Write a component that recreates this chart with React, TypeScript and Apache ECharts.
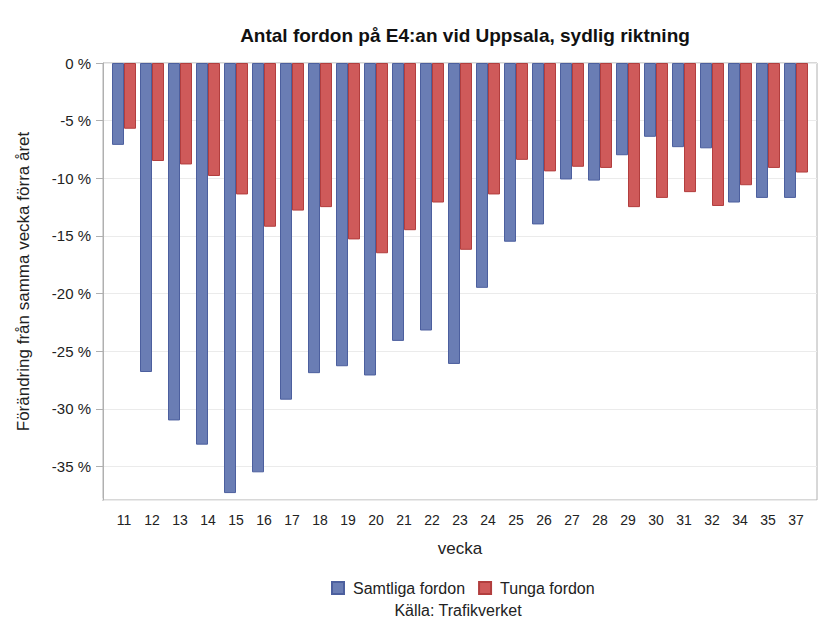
import React, { useEffect, useRef } from "react";
import * as echarts from "echarts";

const weeks = ["11","12","13","14","15","16","17","18","19","20","21","22","23","24","25","26","27","28","29","30","31","32","34","35","37"];
const samtliga = [-7.1,-26.8,-31.0,-33.1,-37.3,-35.5,-29.2,-26.9,-26.3,-27.1,-24.1,-23.2,-26.1,-19.5,-15.5,-14.0,-10.1,-10.2,-8.0,-6.4,-7.3,-7.4,-12.1,-11.7,-11.7];
const tunga = [-5.7,-8.5,-8.8,-9.8,-11.4,-14.2,-12.8,-12.5,-15.3,-16.5,-14.5,-12.1,-16.2,-11.4,-8.4,-9.4,-9.0,-9.1,-12.5,-11.7,-11.2,-12.4,-10.6,-9.1,-9.5];
const yTickLabels = ["0 %","-5 %","-10 %","-15 %","-20 %","-25 %","-30 %","-35 %"];

const FONT = "'Liberation Sans', Arial, sans-serif";
const YMIN = -37.9;

export default function App() {
  const ref = useRef<HTMLDivElement>(null);
  useEffect(() => {
    if (!ref.current) return;
    const chart = echarts.init(ref.current, null, { renderer: "svg" });
    chart.setOption({
      animation: false,
      backgroundColor: "#ffffff",
      textStyle: { fontFamily: FONT },
      title: {
        text: "Antal fordon på E4:an vid Uppsala, sydlig riktning",
        left: 460,
        textAlign: "center",
        top: 21,
        textStyle: { fontFamily: FONT, fontSize: 19, fontWeight: "bold", color: "#111" },
      },
      legend: {
        left: 326,
        top: 575,
        icon: "rect",
        itemWidth: 12,
        itemHeight: 12,
        itemGap: 13,
        textStyle: { fontFamily: FONT, fontSize: 16, color: "#222", padding: [0, 0, 0, 4] },
        data: ["Samtliga fordon", "Tunga fordon"],
      },
      graphic: [
        {
          type: "text",
          x: 458,
          y: 610,
          style: { text: "Källa: Trafikverket", fontFamily: FONT, fontSize: 16, fill: "#222", align: "center", verticalAlign: "middle" },
        },
        {
          type: "rect",
          shape: { x: 94, y: 498, width: 8.5, height: 4 },
          style: { fill: "#ffffff" },
          z: 100,
        },
      ],
      grid: [
        { left: 103, top: 63, width: 714, height: 437, show: true, borderColor: "#b0b0b0", borderWidth: 1, backgroundColor: "transparent" },
        { left: 110, top: 63, width: 700, height: 437 },
      ],
      xAxis: [
        { type: "value", gridIndex: 0, show: false, min: 0, max: 1 },
        {
          type: "category",
          gridIndex: 1,
          data: weeks,
          axisLine: { show: false },
          axisTick: { show: true, alignWithLabel: true, length: 7, lineStyle: { color: "#b0b0b0" } },
          axisLabel: { fontFamily: FONT, fontSize: 14, color: "#222", margin: 13 },
          name: "vecka",
          nameLocation: "middle",
          nameGap: 40,
          nameTextStyle: { fontFamily: FONT, fontSize: 17, color: "#222" },
        },
      ],
      yAxis: [
        {
          type: "value",
          gridIndex: 0,
          inverse: true,
          min: 0,
          max: -YMIN,
          interval: 5,
          axisLine: { show: true, lineStyle: { color: "#b0b0b0" } },
          axisTick: { show: true, length: 7, lineStyle: { color: "#b0b0b0" } },
          splitLine: { show: true, lineStyle: { color: "#ebebeb", width: 1 } },
          axisLabel: {
            fontFamily: FONT,
            fontSize: 15,
            color: "#222",
            margin: 12,
            formatter: (v: number) => {
              const i = Math.round(v / 5);
              return Math.abs(v - i * 5) < 1e-6 && yTickLabels[i] ? yTickLabels[i] : "";
            },
          },
          name: "Förändring från samma vecka förra året",
          nameLocation: "middle",
          nameGap: 71,
          nameRotate: 90,
          nameTextStyle: { fontFamily: FONT, fontSize: 17, color: "#222" },
        },
        {
          type: "value",
          gridIndex: 1,
          min: YMIN,
          max: 0,
          show: false,
          splitLine: { show: false },
        },
      ],
      series: [
        {
          name: "Samtliga fordon",
          type: "bar",
          xAxisIndex: 1,
          yAxisIndex: 1,
          data: samtliga,
          barWidth: 12,
          barGap: "0%",
          itemStyle: { color: "#6a7db4", borderColor: "#4c5f9e", borderWidth: 1 },
        },
        {
          name: "Tunga fordon",
          type: "bar",
          xAxisIndex: 1,
          yAxisIndex: 1,
          data: tunga,
          barWidth: 12,
          barGap: "0%",
          itemStyle: { color: "#cf5a5a", borderColor: "#b23e3e", borderWidth: 1 },
        },
      ],
    });
    return () => chart.dispose();
  }, []);
  return <div ref={ref} style={{ width: 826, height: 630, position: "absolute", left: 0, top: 0 }} />;
}
